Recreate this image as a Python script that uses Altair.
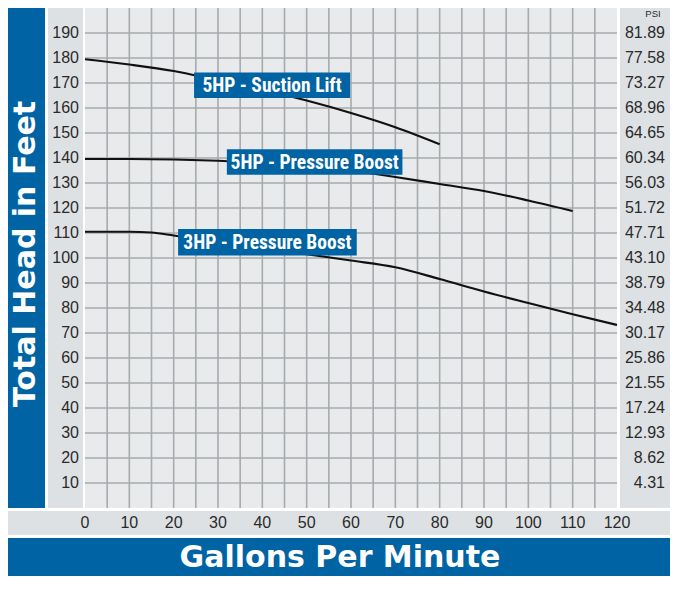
import altair as alt
import pandas as pd

# ---------------- data ----------------
gpm_ticks = [0, 10, 20, 30, 40, 50, 60, 70, 80, 90, 100, 110, 120]
ft_ticks = [10, 20, 30, 40, 50, 60, 70, 80, 90, 100, 110, 120, 130, 140, 150, 160, 170, 180, 190]
psi_labels = ["4.31", "8.62", "12.93", "17.24", "21.55", "25.86", "30.17", "34.48", "38.79",
              "43.10", "47.71", "51.72", "56.03", "60.34", "64.65", "68.96", "73.27", "77.58", "81.89"]
grid_gpm = list(range(5, 120, 5))
grid_ft = list(range(10, 200, 10))

suction_gpm = [0, 10, 20, 30, 40, 50, 60, 70, 80]
suction_ft = [179.5, 177.4, 174.8, 171, 167.3, 163, 158, 152.3, 145.5]

p5_gpm = [0, 10, 20, 30, 40, 50, 60, 70, 80, 90, 100, 110]
p5_ft = [139.6, 139.6, 139.4, 138.9, 138.1, 136.9, 134.9, 132.4, 129.6, 126.8, 123, 118.8]

p3_gpm = [0, 10, 15, 20, 30, 40, 50, 60, 70, 80, 90, 100, 110, 120]
p3_ft = [110.5, 110.5, 110.2, 109, 106.3, 103.7, 101.5, 99, 96.3, 91.6, 86.6, 82, 77.5, 73.2]

label_text = ["5HP - Suction Lift", "5HP - Pressure Boost", "3HP - Pressure Boost"]
label_gpm0 = [24.6, 32.0, 21.0]
label_gpm1 = [59.8, 71.6, 61.3]
label_ft0 = [164.0, 133.3, 101.0]
label_ft1 = [174.2, 143.5, 111.6]

# ---------------- style ----------------
BLUE = "#0063a4"
PANEL = "#dde1e4"
PLOTBG = "#e9eaec"
GRID = "#a6abaf"
W, H = 662, 568

xs = alt.Scale(domain=[0, 120], range=[77, 609])
ys = alt.Scale(domain=[0, 200], range=[500, 0])

one = pd.DataFrame({"k": [0]})


def box(x0, x1, y0, y1, color):
    return alt.Chart(one).mark_rect(color=color).encode(
        x=alt.value(x0), x2=alt.value(x1), y=alt.value(y0), y2=alt.value(y1))


decor = [
    box(0, 37, 0, 500, BLUE),
    box(40, 75, 0, 500, PANEL),
    box(77, 609, 0, 500, PLOTBG),
    box(612, 662, 0, 500, PANEL),
    box(0, 662, 503, 527, PANEL),
    box(0, 662, 530, 568, BLUE),
]

vgrid = alt.Chart(pd.DataFrame({"gpm": grid_gpm})).mark_rule(color=GRID, strokeWidth=1.6).encode(
    x=alt.X("gpm:Q", scale=xs, axis=None), y=alt.value(0), y2=alt.value(500))
hgrid = alt.Chart(pd.DataFrame({"ft": grid_ft})).mark_rule(color=GRID, strokeWidth=1.6).encode(
    y=alt.Y("ft:Q", scale=ys, axis=None), x=alt.value(77), x2=alt.value(609))

curves_df = pd.concat([
    pd.DataFrame({"gpm": suction_gpm, "ft": suction_ft, "s": "suction"}),
    pd.DataFrame({"gpm": p5_gpm, "ft": p5_ft, "s": "p5"}),
    pd.DataFrame({"gpm": p3_gpm, "ft": p3_ft, "s": "p3"}),
])
curves = alt.Chart(curves_df).mark_line(color="#111111", strokeWidth=2.2, interpolate="monotone").encode(
    x=alt.X("gpm:Q", scale=xs, axis=None),
    y=alt.Y("ft:Q", scale=ys, axis=None),
    detail="s:N")

lab_df = pd.DataFrame({"t": label_text, "g0": label_gpm0, "g1": label_gpm1,
                       "f0": label_ft0, "f1": label_ft1})
lab_df["gc"] = (lab_df["g0"] + lab_df["g1"]) / 2
lab_df["fc"] = (lab_df["f0"] + lab_df["f1"]) / 2
lab_boxes = alt.Chart(lab_df).mark_rect(color=BLUE).encode(
    x=alt.X("g0:Q", scale=xs, axis=None), x2="g1:Q",
    y=alt.Y("f0:Q", scale=ys, axis=None), y2="f1:Q")
lab_text = alt.Chart(lab_df).mark_text(
    color="white", font="Liberation Sans Narrow, Roboto Condensed, Arial Narrow, sans-serif",
    fontWeight="bold", fontSize=19.5, align="center", baseline="middle", dy=1).encode(
    x=alt.X("gc:Q", scale=xs, axis=None), y=alt.Y("fc:Q", scale=ys, axis=None), text="t:N")

tick_font = "Liberation Sans, Arial, sans-serif"
ylab = alt.Chart(pd.DataFrame({"ft": ft_ticks})).mark_text(
    font=tick_font, fontSize=16, color="#2a2a2a", align="right", baseline="middle").encode(
    y=alt.Y("ft:Q", scale=ys, axis=None), x=alt.value(71), text="ft:Q")
psilab = alt.Chart(pd.DataFrame({"ft": ft_ticks, "p": psi_labels})).mark_text(
    font=tick_font, fontSize=16, color="#2a2a2a", align="right", baseline="middle").encode(
    y=alt.Y("ft:Q", scale=ys, axis=None), x=alt.value(657), text="p:N")
psi_title = alt.Chart(pd.DataFrame({"t": ["PSI"]})).mark_text(
    font=tick_font, fontSize=9.5, color="#2a2a2a", align="center", baseline="middle").encode(
    x=alt.value(645), y=alt.value(6), text="t:N")
xlab = alt.Chart(pd.DataFrame({"gpm": gpm_ticks})).mark_text(
    font=tick_font, fontSize=16, color="#2a2a2a", align="center", baseline="middle").encode(
    x=alt.X("gpm:Q", scale=xs, axis=None), y=alt.value(515), text="gpm:Q")

title_font = "DejaVu Sans, Verdana, sans-serif"
ytitle = alt.Chart(pd.DataFrame({"t": ["Total Head in Feet"]})).mark_text(
    font=title_font, fontWeight="bold", fontSize=30, color="white", angle=270,
    align="center", baseline="middle").encode(
    x=alt.value(18), y=alt.value(246), text="t:N")
xtitle = alt.Chart(pd.DataFrame({"t": ["Gallons Per Minute"]})).mark_text(
    font=title_font, fontWeight="bold", fontSize=30, color="white",
    align="center", baseline="middle").encode(
    x=alt.value(332), y=alt.value(550), text="t:N")

chart = alt.layer(
    *decor, vgrid, hgrid, curves, lab_boxes, lab_text, ylab, psilab, psi_title, xlab, ytitle, xtitle
).properties(
    width=W, height=H,
    padding=0,
    autosize=alt.AutoSizeParams(type="none"),
    background="white",
).configure_view(stroke=None)

chart.save("out.html", embed_options={"renderer": "svg", "actions": False})
